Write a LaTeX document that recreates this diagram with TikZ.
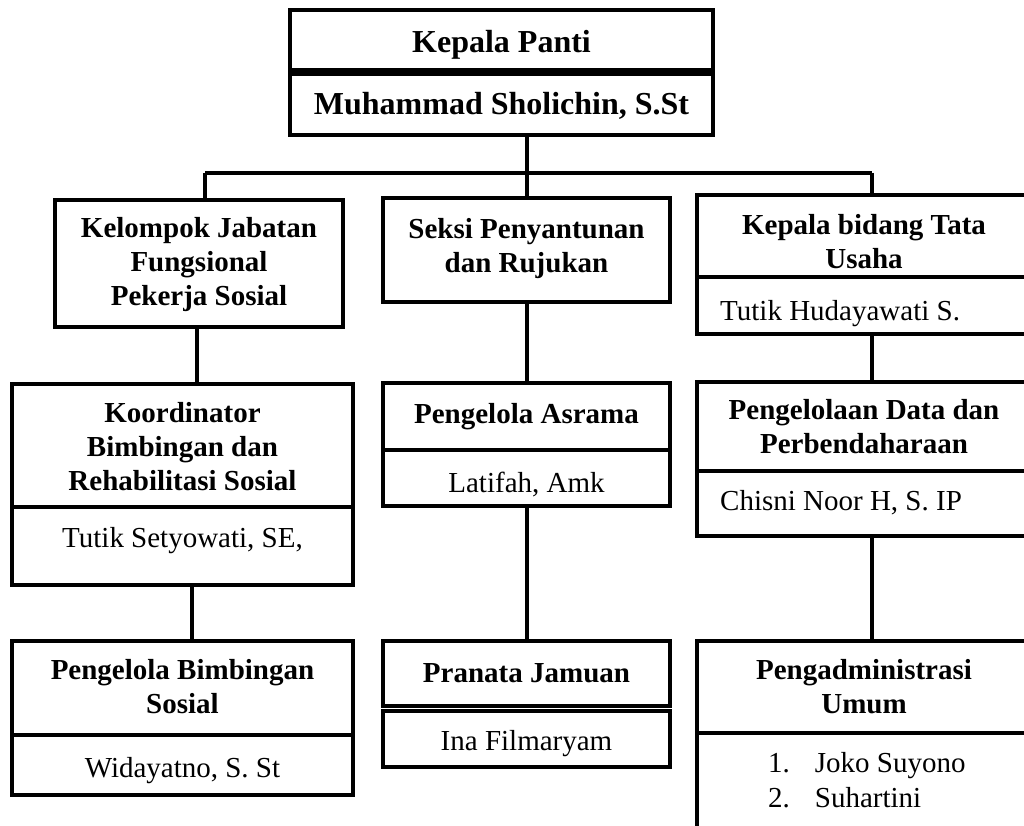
\documentclass[tikz,border=0pt]{standalone}
\usepackage{fontspec}
\setmainfont{Liberation Serif}
\begin{document}
\begin{tikzpicture}[x=1pt,y=-1pt,
  box/.style={draw, line width=4pt, inner sep=0pt, outer sep=0pt, anchor=north west},
  conn/.style={line width=4pt},
  hd/.style={inner sep=0pt, anchor=base, align=center, font=\fontsize{29}{34}\selectfont\bfseries},
  hdbig/.style={inner sep=0pt, anchor=base, align=center, font=\fontsize{32}{38}\selectfont\bfseries},
  nm/.style={inner sep=0pt, anchor=base, align=center, font=\fontsize{29}{35}\selectfont},
  nmw/.style={inner sep=0pt, anchor=base west, font=\fontsize{29}{35}\selectfont},
]
\useasboundingbox (0,0) rectangle (1024,826);
\clip (0,0) rectangle (1024,826);

% top box
\node[box, minimum width=423pt, minimum height=60pt] (T1) at (290,10) {};
\node[box, minimum width=423pt, minimum height=61pt] (T2) at (290,74) {};
\node[hdbig] (t1) at (501.5,53) {Kepala Panti};
\node[hdbig] (t2) at (501.5,115) {Muhammad Sholichin, S.St};

% left column (multi-line nodes: base = last line's baseline)
\node[box, minimum width=288pt, minimum height=127pt] (L1) at (55,200) {};
\node[hd] (l1) at (199,305) {Kelompok Jabatan\\Fungsional\\Pekerja Sosial};
\node[box, minimum width=341pt, minimum height=123pt] (L2) at (12,384) {};
\node[box, minimum width=341pt, minimum height=78pt] (L2b) at (12,507) {};
\node[hd] (l2) at (182.5,490) {Koordinator\\Bimbingan dan\\Rehabilitasi Sosial};
\node[nm] (l2b) at (182.5,547) {Tutik Setyowati, SE,};
\node[box, minimum width=341pt, minimum height=94pt] (L3) at (12,641) {};
\node[box, minimum width=341pt, minimum height=60pt] (L3b) at (12,735) {};
\node[hd] (l3) at (182.5,713) {Pengelola Bimbingan\\Sosial};
\node[nm] (l3b) at (182.5,777) {Widayatno, S. St};

% middle column
\node[box, minimum width=287pt, minimum height=104pt] (M1) at (383,198) {};
\node[hd] (m1) at (526.5,272) {Seksi Penyantunan\\dan Rujukan};
\node[box, minimum width=287pt, minimum height=67pt] (M2) at (383,383) {};
\node[box, minimum width=287pt, minimum height=56pt] (M2b) at (383,450) {};
\node[hd] (m2) at (526.5,423) {Pengelola Asrama};
\node[nm] (m2b) at (526.5,492) {Latifah, Amk};
\node[box, minimum width=287pt, minimum height=65pt] (M3) at (383,641) {};
\node[box, minimum width=287pt, minimum height=56pt] (M3b) at (383,711) {};
\node[hd] (m3) at (526.5,682) {Pranata Jamuan};
\node[nm] (m3b) at (526.5,750) {Ina Filmaryam};

% right column
\node[box, minimum width=335pt, minimum height=82pt] (R1) at (697,195) {};
\node[box, minimum width=335pt, minimum height=57pt] (R1b) at (697,277) {};
\node[hd] (r1) at (864,268) {Kepala bidang Tata\\Usaha};
\node[nmw] (r1b) at (720,320) {Tutik Hudayawati S.};
\node[box, minimum width=335pt, minimum height=89pt] (R2) at (697,382) {};
\node[box, minimum width=335pt, minimum height=65pt] (R2b) at (697,471) {};
\node[hd] (r2) at (864,453) {Pengelolaan Data dan\\Perbendaharaan};
\node[nmw] (r2b) at (720,510) {Chisni Noor H, S. IP};
\node[box, minimum width=335pt, minimum height=92pt] (R3) at (697,641) {};
\node[box, minimum width=335pt, minimum height=120pt] (R3b) at (697,733) {};
\node[hd] (r3) at (864,713) {Pengadministrasi\\Umum};
\node[nmw] (r3b) at (768,772) {\begin{tabular}[t]{@{}l@{\hspace{25pt}}l@{}}1. & Joko Suyono\\2. & Suhartini\end{tabular}};

% connectors
\coordinate (busL) at (205,173);
\coordinate (busR) at (872,173);
\draw[conn] (M1.north |- T2.south) -- (M1.north);
\draw[conn] (busL) -- (busR);
\draw[conn] (busL) -- (busL |- L1.north);
\draw[conn] (busR) -- (busR |- R1.north);
\draw[conn] ([xshift=-2pt]L1.south) -- ([xshift=-2pt]L1.south |- L2.north);
\draw[conn] ([xshift=9.5pt]L2b.south) -- ([xshift=9.5pt]L2b.south |- L3.north);
\draw[conn] (M1.south) -- (M1.south |- M2.north);
\draw[conn] (M2b.south) -- (M2b.south |- M3.north);
\draw[conn] (busR |- R1b.south) -- (busR |- R2.north);
\draw[conn] (busR |- R2b.south) -- (busR |- R3.north);
\end{tikzpicture}
\end{document}
